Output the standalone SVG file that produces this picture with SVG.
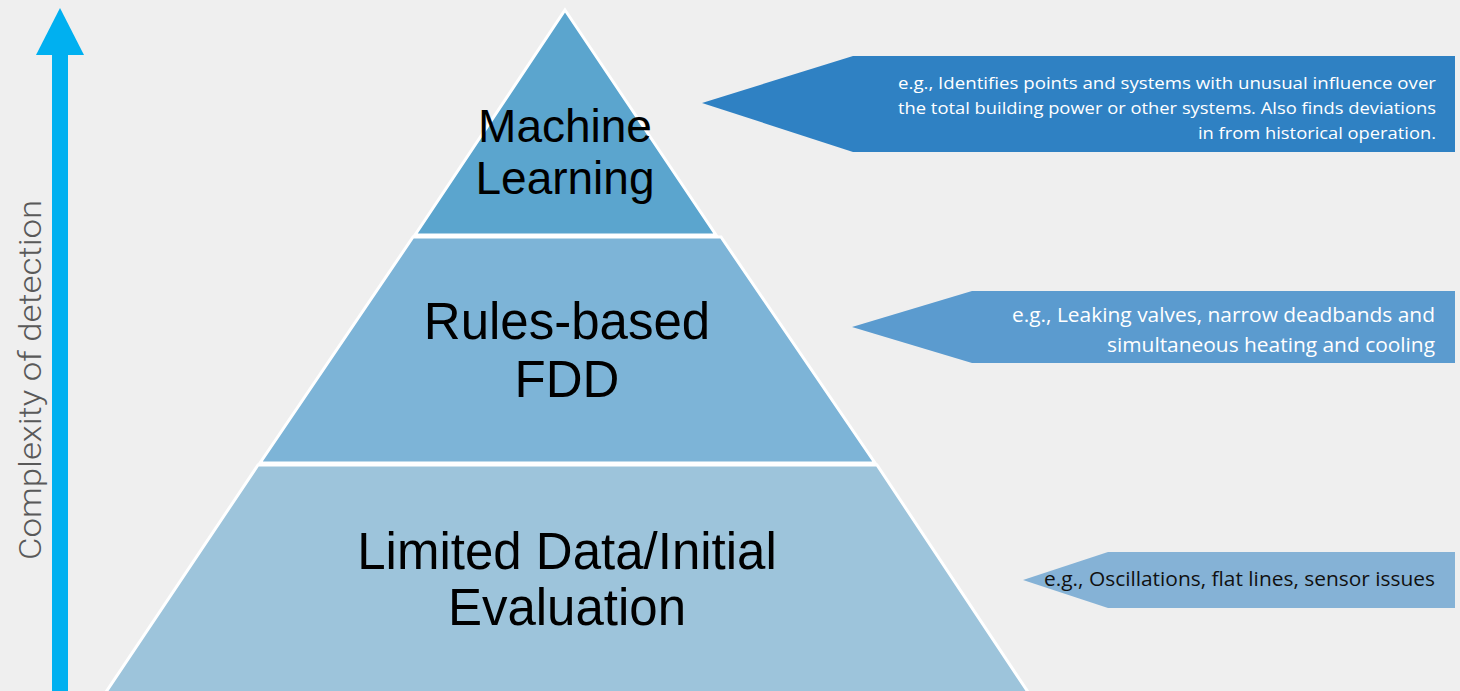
<svg xmlns="http://www.w3.org/2000/svg" width="1460" height="691" viewBox="0 0 1460 691">
<style>
.layer{stroke:#ffffff;stroke-width:3}
.lbl{font-family:"Liberation Sans",Arial,sans-serif;font-size:51px;fill:#000;text-anchor:middle}
.lbl.sm{font-size:46px}
.note{font-family:"Open Sans","Noto Sans",sans-serif;text-anchor:end}
.w{fill:#ffffff}
</style>
<rect width="1460" height="691" fill="#efefef"/>
<g id="axis">
<rect x="52" y="54" width="16" height="640" fill="#00b0f0"/>
<polygon points="60,8 84,55 36,55" fill="#00b0f0"/>
<text transform="translate(41,380) rotate(-90)" font-family="Roboto,'Liberation Sans',sans-serif" font-weight="300" font-size="31" fill="#595959" text-anchor="middle" textLength="360" lengthAdjust="spacingAndGlyphs">Complexity of detection</text>
</g>
<g id="layer-bottom">
<polygon class="layer" points="258,465 877,465 1030,695 104,695" fill="#9dc4db"/>
<text class="lbl" x="567" y="569">Limited Data/Initial</text>
<text class="lbl" x="567" y="625">Evaluation</text>
</g>
<g id="layer-middle">
<polygon class="layer" points="413,237 721,237 875,463 260,463" fill="#7db4d7"/>
<text class="lbl" x="567" y="339">Rules-based</text>
<text class="lbl" x="567" y="397">FDD</text>
</g>
<g id="layer-top">
<polygon class="layer" points="565,10 716,235 415,235" fill="#5ba5ce"/>
<text class="lbl sm" x="565" y="142">Machine</text>
<text class="lbl sm" x="565" y="194">Learning</text>
</g>
<g id="note-top">
<polygon points="702,103 853,56 1455,56 1455,152 853,152" fill="#2f81c3"/>
<text class="note w" font-size="17" x="1436" y="89" textLength="538" lengthAdjust="spacingAndGlyphs">e.g., Identifies points and systems with unusual influence over</text>
<text class="note w" font-size="17" x="1436" y="114" textLength="538" lengthAdjust="spacingAndGlyphs">the total building power or other systems. Also finds deviations</text>
<text class="note w" font-size="17" x="1436" y="139" textLength="238" lengthAdjust="spacingAndGlyphs">in from historical operation.</text>
</g>
<g id="note-middle">
<polygon points="852,327 972,291 1455,291 1455,363 972,363" fill="#5b9bcf"/>
<text class="note w" font-size="20" x="1435" y="322" textLength="423" lengthAdjust="spacingAndGlyphs">e.g., Leaking valves, narrow deadbands and</text>
<text class="note w" font-size="20" x="1435" y="352" textLength="328" lengthAdjust="spacingAndGlyphs">simultaneous heating and cooling</text>
</g>
<g id="note-bottom">
<polygon points="1023,580 1108,552 1455,552 1455,608 1108,608" fill="#85b2d6"/>
<text class="note" font-size="20" fill="#111111" x="1435" y="586" textLength="391" lengthAdjust="spacingAndGlyphs">e.g., Oscillations, flat lines, sensor issues</text>
</g>
<g id="connectors"></g>
</svg>
